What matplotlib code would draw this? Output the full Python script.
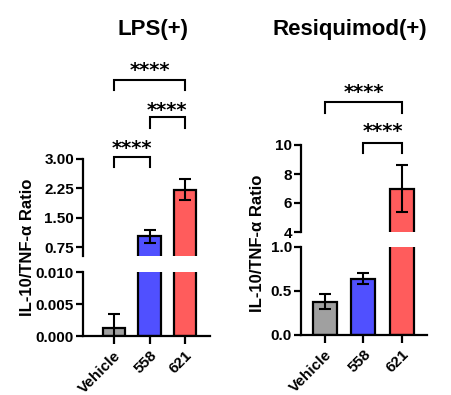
import matplotlib
matplotlib.use('Agg')
import matplotlib.pyplot as plt

plt.rcParams['font.family'] = ['Liberation Sans', 'DejaVu Sans']
plt.rcParams['font.weight'] = 'bold'

groups = ['Vehicle', '558', '621']
colors = ['#a0a0a0', '#5050ff', '#ff5c5c']

lps_means = [0.0012, 1.02, 2.22]
lps_sd = [0.0023, 0.17, 0.27]

resiq_means = [0.38, 0.64, 6.98]
resiq_sd = [0.085, 0.065, 1.62]

W, H = 452, 395
fig = plt.figure(figsize=(W / 100, H / 100), dpi=100)


def px(x, y, w, h):
    return [x / W, 1 - (y + h) / H, w / W, h / H]


def style(ax, lw=1.6):
    for s in ['top', 'right']:
        ax.spines[s].set_visible(False)
    for s in ['left', 'bottom']:
        ax.spines[s].set_linewidth(lw)
    ax.tick_params(width=lw, length=5, labelsize=11, pad=1.5)


def panel(box_up, box_lo, means, sd, up_lim, lo_lim, up_ticks, lo_ticks, up_fmt, lo_fmt, xlim, brackets):
    ax_up = fig.add_axes(px(*box_up))
    ax_lo = fig.add_axes(px(*box_lo))
    x = range(len(groups))
    for ax in (ax_up, ax_lo):
        ax.bar(x, means, width=0.62, color=colors, edgecolor='black', linewidth=1.6, zorder=2)
        ax.errorbar(x, means, yerr=sd, fmt='none', ecolor='black', elinewidth=1.5,
                    capsize=4.5, capthick=1.5, zorder=3)
        ax.set_xlim(*xlim)
        style(ax)
    ax_up.set_ylim(*up_lim)
    ax_lo.set_ylim(*lo_lim)
    ax_up.set_yticks(up_ticks)
    ax_up.set_yticklabels([up_fmt.format(v) for v in up_ticks], fontweight='bold')
    ax_lo.set_yticks(lo_ticks)
    ax_lo.set_yticklabels([lo_fmt.format(v) for v in lo_ticks], fontweight='bold')
    ax_up.spines['bottom'].set_visible(False)
    ax_up.set_xticks([])
    ax_lo.set_xticks(list(x))
    ax_lo.set_xticklabels(groups, rotation=45, ha='right', rotation_mode='anchor',
                          fontweight='bold', fontsize=11)
    ax_lo.tick_params(axis='x', length=6, pad=3)
    for i, j, y_top, y_leg, y_star in brackets:
        ax_up.plot([i, i, j, j], [y_leg, y_top, y_top, y_leg], color='black', lw=1.5,
                   clip_on=False, solid_joinstyle='miter')
        ax_up.text((i + j) / 2, y_star, '****', ha='center', va='center',
                   fontsize=14, fontweight='bold', family='DejaVu Sans', clip_on=False)
    return ax_up, ax_lo


panel((83, 159, 127, 97), (83, 272, 127, 64), lps_means, lps_sd,
      (0.52, 3.0), (0, 0.010), [0.75, 1.50, 2.25, 3.00], [0.0, 0.005, 0.010],
      '{:.2f}', '{:.3f}', (-0.87, 2.7),
      [(0, 2, 5.02, 4.76, 5.25), (1, 2, 4.07, 3.79, 4.23), (0, 1, 3.05, 2.80, 3.28)])

panel((301, 145, 126, 87), (301, 247, 126, 88), resiq_means, resiq_sd,
      (4, 10), (0, 1.0), [4, 6, 8, 10], [0.0, 0.5, 1.0],
      '{:.0f}', '{:.1f}', (-0.62, 2.65),
      [(0, 2, 12.97, 12.2, 13.6), (1, 2, 10.14, 9.45, 10.9)])

fig.text(153 / W, 1 - 30 / H, 'LPS(+)', ha='center', va='center', fontsize=16, fontweight='bold')
fig.text(350 / W, 1 - 30 / H, 'Resiquimod(+)', ha='center', va='center', fontsize=16, fontweight='bold')

fig.text(28 / W, 1 - 247 / H, 'IL-10/TNF-α Ratio', rotation=90, ha='center', va='center',
         fontsize=12, fontweight='bold')
fig.text(258 / W, 1 - 243 / H, 'IL-10/TNF-α Ratio', rotation=90, ha='center', va='center',
         fontsize=12, fontweight='bold')

fig.savefig('out.png', dpi=100, facecolor='white')
